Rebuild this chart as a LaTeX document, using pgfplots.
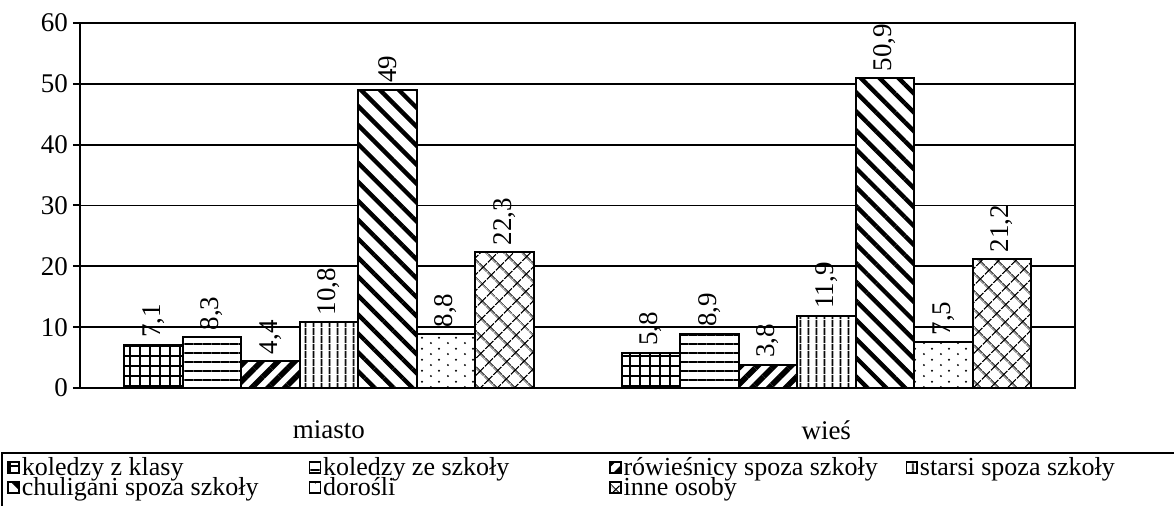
\documentclass[border=0pt]{standalone}
\usepackage{fontspec}
\setmainfont{Liberation Serif}
\usepackage{pgfplots}
\pgfplotsset{compat=1.18}
\usetikzlibrary{patterns,patterns.meta}

% sparse staggered dots for "dorosli"
\pgfdeclarepatternformonly{sparsedots}{\pgfqpoint{0pt}{0pt}}{\pgfqpoint{8.25pt}{5.35pt}}{\pgfqpoint{8.25pt}{5.35pt}}{%
  \pgfpathcircle{\pgfqpoint{1pt}{1pt}}{0.55pt}%
  \pgfpathcircle{\pgfqpoint{5.125pt}{3.675pt}}{0.55pt}%
  \pgfusepath{fill}}

\tikzset{
    bar/.style = {fill=white, draw=black, line width=1pt},
}

\begin{document}
\begin{tikzpicture}
\begin{axis}[
    at={(40pt,59pt)}, anchor=south west,
    scale only axis, width=497.5pt, height=182.5pt,
    clip=false,
    ybar=0pt, bar width=29.25pt,
    xmin=-0.5, xmax=1.5, ymin=0, ymax=60,
    xtick={0,1}, xticklabels={miasto,wieś},
    ytick={0,10,...,60},
    x tick style={draw=none},
    y tick style={black, line width=1pt},
    major tick length=3.5pt, tick align=outside, tick pos=left,
    axis line style={black, line width=1pt},
    ymajorgrids, grid style={black, line width=0.9pt},
    font=\fontsize{13.5}{15}\selectfont,
    /pgf/number format/assume math mode=true,
    /pgf/number format/use comma,
    xticklabel style={yshift=-9.5pt},
    yticklabel style={xshift=1pt},
    nodes near coords,
    every node near coord/.append style={rotate=90, anchor=west, inner xsep=3pt, inner ysep=0pt, black},
    legend columns=4,
    legend cell align=left,
    legend style={at={(-0.0784,-0.169)}, anchor=north west, draw=none, fill=none,
        font=\fontsize{13}{13}\selectfont, row sep=-2.5pt, inner xsep=2.5pt, inner ysep=2.5pt,
        column sep=0pt, nodes={inner xsep=1pt, inner ysep=1pt}},
    legend image code/.code={\draw[#1, line width=0.8pt] (0pt,-2.6pt) rectangle (5.4pt,2.8pt);},
]
\addplot[bar, postaction={pattern={Hatch[angle=0,distance=5pt,line width=0.9pt]}}]
    coordinates {(0,7.1) (1,5.8)};
\addlegendentry{\makebox[142.5pt][l]{koledzy z klasy}}
\addplot[bar, postaction={pattern={Lines[angle=0,distance=4.5pt,line width=1pt]}}]
    coordinates {(0,8.3) (1,8.9)};
\addlegendentry{\makebox[142pt][l]{koledzy ze szkoły}}
\addplot[bar, postaction={pattern={Lines[angle=45,distance=5.9pt,line width=2.8pt]}}]
    coordinates {(0,4.4) (1,3.8)};
\addlegendentry{\makebox[140pt][l]{rówieśnicy spoza szkoły}}
\addplot[bar, postaction={pattern={Lines[angle=90,distance=4pt,line width=1pt]}}]
    coordinates {(0,10.8) (1,11.9)};
\addlegendentry{\makebox[150pt][l]{starsi spoza szkoły}}
\addplot[bar, postaction={pattern={Lines[angle=-45,distance=6.7pt,line width=2.2pt]}}]
    coordinates {(0,49) (1,50.9)};
\addlegendentry{chuligani spoza szkoły}
\addplot[bar, postaction={pattern=sparsedots}]
    coordinates {(0,8.8) (1,7.5)};
\addlegendentry{dorośli}
\addplot[bar, postaction={pattern={Hatch[angle=45,distance=6.4pt,line width=0.7pt]}}]
    coordinates {(0,22.3) (1,21.2)};
\addlegendentry{inne osoby}
% legend frame, running off the right and bottom edges as in the reference
\draw[black, line width=1pt] (axis description cs:1.2,-0.1781) -| (axis description cs:-0.0784,-0.4);
\end{axis}
\pgfresetboundingbox
\path[use as bounding box] (0,0) rectangle (587pt,253pt);
\end{tikzpicture}
\end{document}
